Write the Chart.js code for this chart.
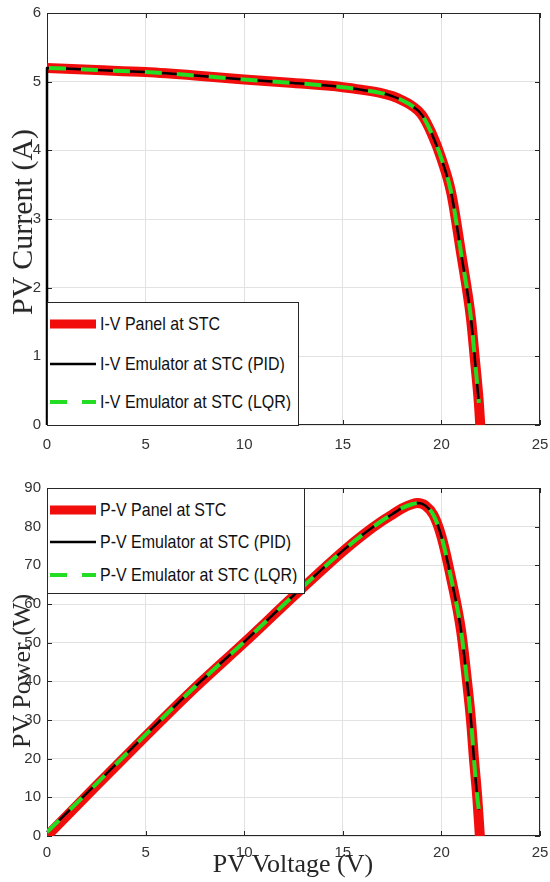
<!DOCTYPE html>
<html>
<head>
<meta charset="utf-8">
<script src="https://cdn.jsdelivr.net/npm/chart.js@4.4.0/dist/chart.umd.min.js"></script>
<style>
  html, body { margin: 0; padding: 0; background: #fff; }
  #wrap { position: relative; width: 550px; height: 882px; overflow: hidden; }
  .pane { position: absolute; left: 0; width: 550px; }
  .title { position: absolute; font-family: "Liberation Serif", "DejaVu Serif", serif; color: #262626; white-space: nowrap; line-height: 1; }
  .legend { position: absolute; background: #fff; border: 1px solid #262626; box-sizing: border-box;
            font-family: "Liberation Sans", Arial, sans-serif; font-size: 16px; color: #111; }
  .legend .row { position: absolute; left: 2px; height: 20px; display: flex; align-items: center; white-space: nowrap; }
  .legend svg { margin-right: 4px; }
</style>
</head>
<body>
<div id="wrap">
  <div class="pane" style="top:0;height:450px"><canvas id="ivChart"></canvas></div>
  <div class="pane" style="top:450px;height:432px"><canvas id="pvChart"></canvas></div>

  <div class="title" id="ivTitle" style="left:22px;top:222px;font-size:30px;transform:translate(-50%,-50%) rotate(-90deg)">PV Current (A)</div>
  <div class="title" id="pvTitle" style="left:22px;top:671px;font-size:26px;transform:translate(-50%,-50%) rotate(-90deg)">PV Power (W)</div>
  <div class="title" id="xTitle" style="left:293px;top:864px;font-size:26px;transform:translate(-50%,-50%)">PV Voltage (V)</div>

  <div class="legend" id="ivLegend" style="left:47px;top:302px;width:252px;height:124px"></div>
  <div class="legend" id="pvLegend" style="left:47px;top:488px;width:258px;height:106px"></div>
</div>

<script>
// I-V curve (top)
const ivPanelV = [0, 2.5, 5, 7.5, 10, 12.5, 15, 16, 17, 17.5, 18, 18.5, 19, 19.5, 20, 20.5, 21, 21.5, 21.7, 21.9, 21.97];
const ivPanelI = [5.2, 5.17, 5.14, 5.09, 5.03, 4.98, 4.92, 4.88, 4.83, 4.79, 4.73, 4.65, 4.52, 4.25, 3.88, 3.38, 2.5, 1.55, 0.95, 0.32, 0];
const ivPidV = [0, 0, 2.5, 5, 7.5, 10, 12.5, 15, 16, 17, 17.5, 18, 18.5, 19, 19.5, 20, 20.5, 21, 21.5, 21.7, 21.9];
const ivPidI = [0, 5.2, 5.17, 5.14, 5.09, 5.03, 4.98, 4.92, 4.88, 4.83, 4.79, 4.73, 4.65, 4.52, 4.25, 3.88, 3.38, 2.5, 1.55, 0.95, 0.32];
const ivLqrV = [0.1, 2.5, 5, 7.5, 10, 12.5, 15, 16, 17, 17.5, 18, 18.5, 19, 19.5, 20, 20.5, 21, 21.5, 21.7, 21.9];
const ivLqrI = [5.2, 5.17, 5.14, 5.09, 5.03, 4.98, 4.92, 4.88, 4.83, 4.79, 4.73, 4.65, 4.52, 4.25, 3.88, 3.38, 2.5, 1.55, 0.95, 0.32];

// P-V curve (bottom)
const pvPanelV = [0, 2.5, 5, 7.5, 10, 12.5, 15, 16, 17, 17.5, 18, 18.5, 18.8, 19.2, 19.6, 20, 20.5, 21, 21.3, 21.5, 21.65, 21.82, 21.95];
const pvPanelP = [0, 13, 25.8, 38.3, 50, 62, 73.6, 77.8, 81.5, 83.1, 84.7, 85.8, 86.1, 85.4, 83, 77.5, 66.5, 53, 40, 30, 20, 10, 0];
const pvEmuV = [0, 2.5, 5, 7.5, 10, 12.5, 15, 16, 17, 17.5, 18, 18.5, 18.8, 19.2, 19.6, 20, 20.5, 21, 21.3, 21.5, 21.65, 21.82, 21.9];
const pvEmuP = [1, 13.5, 26.2, 38.6, 50.2, 62.2, 73.8, 77.9, 81.6, 83.2, 84.8, 85.8, 86.1, 85.4, 83, 77.5, 66.5, 53, 40, 30, 20, 10, 6.8];

const xTicks = [0, 5, 10, 15, 20, 25];

function pts(xs, ys) {
  return xs.map((x, i) => ({ x: x, y: ys[i] }));
}

// higher order is drawn first (underneath)
const styles = {
  panel: { borderColor: '#f20d0d', borderWidth: 10, borderDash: [], order: 3 },
  pid:   { borderColor: '#000000', borderWidth: 2.5, borderDash: [], order: 2, clip: 3 },
  lqr:   { borderColor: '#22dd22', borderWidth: 4, borderDash: [17, 15], order: 1 }
};

// MATLAB style box with inward ticks
const framePlugin = {
  id: 'frame',
  beforeDatasetsDraw(chart) {
    const { ctx, chartArea: a, scales } = chart;
    ctx.save();
    ctx.strokeStyle = '#262626';
    ctx.lineWidth = 1;
    ctx.beginPath();
    scales.x.ticks.forEach(t => {
      const px = Math.round(scales.x.getPixelForValue(t.value)) + 0.5;
      ctx.moveTo(px, a.bottom); ctx.lineTo(px, a.bottom - 5);
      ctx.moveTo(px, a.top); ctx.lineTo(px, a.top + 5);
    });
    scales.y.ticks.forEach(t => {
      const py = Math.round(scales.y.getPixelForValue(t.value)) + 0.5;
      ctx.moveTo(a.left, py); ctx.lineTo(a.left + 5, py);
      ctx.moveTo(a.right, py); ctx.lineTo(a.right - 5, py);
    });
    ctx.stroke();
    ctx.strokeRect(Math.round(a.left) + 0.5, Math.round(a.top) + 0.5, Math.round(a.width) - 1, Math.round(a.height) - 1);
    ctx.restore();
  }
};

function makeChart(id, datasets, yMax, yStep, padTop, xAxisH, xPad) {
  const ctx = document.getElementById(id).getContext('2d');
  return new Chart(ctx, {
    type: 'line',
    data: { datasets: datasets },
    options: {
      responsive: true,
      maintainAspectRatio: false,
      animation: false,
      layout: { padding: { top: padTop, right: 10, left: 0, bottom: 0 } },
      plugins: { legend: { display: false }, tooltip: { enabled: false } },
      elements: {
        point: { radius: 0 },
        line: { cubicInterpolationMode: 'monotone', borderCapStyle: 'butt', borderJoinStyle: 'round' }
      },
      scales: {
        x: {
          type: 'linear', min: 0, max: 25,
          afterBuildTicks: s => { s.ticks = xTicks.map(v => ({ value: v })); },
          afterFit: s => { s.height = xAxisH; s.paddingLeft = 0; s.paddingRight = 0; },
          grid: { color: '#e2e2e2', drawTicks: false },
          border: { display: false },
          ticks: { padding: xPad, color: '#333', font: { family: 'Liberation Sans', size: 15 } }
        },
        y: {
          min: 0, max: yMax,
          afterFit: s => { s.width = 47; s.paddingTop = 0; s.paddingBottom = 0; },
          grid: { color: '#e2e2e2', drawTicks: false },
          border: { display: false },
          ticks: { stepSize: yStep, padding: 6, color: '#333', font: { family: 'Liberation Sans', size: 15 } }
        }
      }
    },
    plugins: [framePlugin]
  });
}

function buildLegend(id, datasets, rowTops) {
  const box = document.getElementById(id);
  datasets.forEach((d, i) => {
    const row = document.createElement('div');
    row.className = 'row';
    row.style.top = rowTops[i] + 'px';
    const dash = d.borderDash.length ? ` stroke-dasharray="${d.borderDash.join(' ')}"` : '';
    row.innerHTML = `<svg width="46" height="12"><line x1="0" y1="6" x2="46" y2="6" stroke="${d.borderColor}" stroke-width="${Math.min(d.borderWidth, 9)}"${dash}/></svg><span style="display:inline-block;transform:scaleY(1.12)">${d.label}</span>`;
    box.appendChild(row);
  });
}

const ivSets = [
  Object.assign({ label: 'I-V Panel at STC', data: pts(ivPanelV, ivPanelI) }, styles.panel),
  Object.assign({ label: 'I-V Emulator at STC (PID)', data: pts(ivPidV, ivPidI) }, styles.pid),
  Object.assign({ label: 'I-V Emulator at STC (LQR)', data: pts(ivLqrV, ivLqrI) }, styles.lqr)
];
const pvSets = [
  Object.assign({ label: 'P-V Panel at STC', data: pts(pvPanelV, pvPanelP) }, styles.panel),
  Object.assign({ label: 'P-V Emulator at STC (PID)', data: pts(pvEmuV, pvEmuP) }, styles.pid),
  Object.assign({ label: 'P-V Emulator at STC (LQR)', data: pts(pvEmuV, pvEmuP) }, styles.lqr)
];

makeChart('ivChart', ivSets, 6, 1, 13, 25, 11);
makeChart('pvChart', pvSets, 90, 10, 38, 46, 8);

buildLegend('ivLegend', ivSets, [11, 51, 89]);
buildLegend('pvLegend', pvSets, [11, 43, 76]);
</script>
</body>
</html>
